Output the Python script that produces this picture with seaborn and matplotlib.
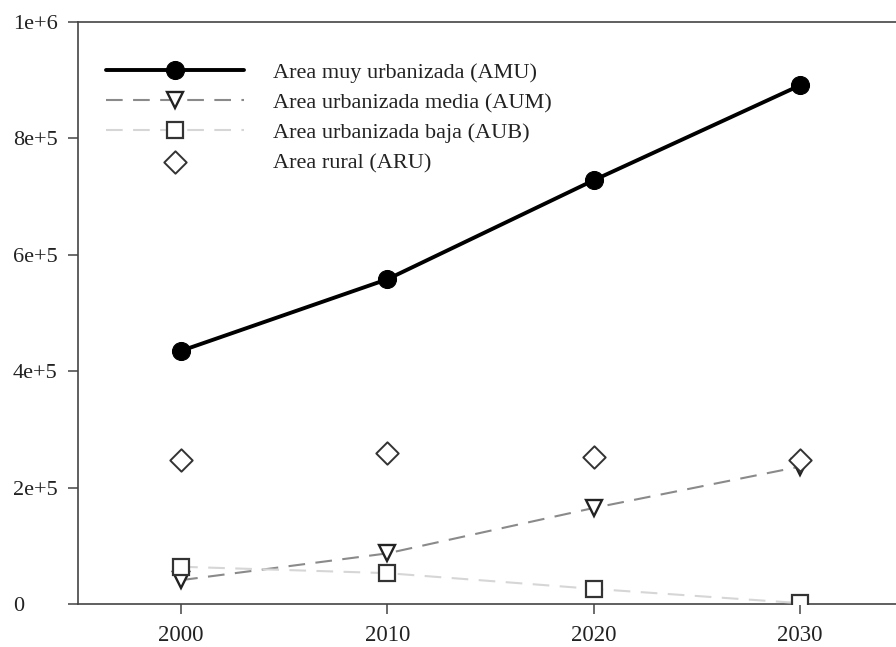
import matplotlib
matplotlib.use("Agg")
import matplotlib.pyplot as plt
import seaborn as sns
import pandas as pd

years = [2000, 2010, 2020, 2030]
amu = [435000, 558000, 728000, 891000]
aum = [41000, 87000, 165000, 236000]
aub = [64000, 53000, 26000, 1500]
aru = [247000, 259000, 253000, 248000]
labels = [
    "Area muy urbanizada (AMU)",
    "Area urbanizada media (AUM)",
    "Area urbanizada baja (AUB)",
    "Area rural (ARU)",
]
y_ticks = [0, 200000, 400000, 600000, 800000, 1000000]
y_tick_labels = ["0", "2e+5", "4e+5", "6e+5", "8e+5", "1e+6"]

sns.set_style("white")
plt.rcParams["font.family"] = ["Liberation Serif", "DejaVu Serif"]

fig = plt.figure(figsize=(8.96, 6.47), dpi=100)
ax = fig.add_axes([78 / 896, 43 / 647, 825 / 896, 582 / 647])

df_amu = pd.DataFrame({"year": years, "value": amu})
df_aum = pd.DataFrame({"year": years, "value": aum})
df_aub = pd.DataFrame({"year": years, "value": aub})
df_aru = pd.DataFrame({"year": years, "value": aru})

sns.lineplot(data=df_amu, x="year", y="value", ax=ax, color="black", lw=2.8,
             marker="o", markersize=13, markerfacecolor="black",
             markeredgecolor="black", label=labels[0], zorder=4)
sns.lineplot(data=df_aum, x="year", y="value", ax=ax, color="#8a8a8a", lw=1.5,
             linestyle=(0, (8, 5)), marker="v", markersize=12,
             markerfacecolor="white", markeredgecolor="#222222",
             markeredgewidth=1.7, label=labels[1], zorder=3)
sns.lineplot(data=df_aub, x="year", y="value", ax=ax, color="#d6d6d6", lw=1.5,
             linestyle=(0, (8, 5)), marker="s", markersize=11.5,
             markerfacecolor="white", markeredgecolor="#333333",
             markeredgewidth=1.6, label=labels[2], zorder=3)
sns.scatterplot(data=df_aru, x="year", y="value", ax=ax, marker="D", s=130,
                facecolor="white", edgecolor="#333333", linewidth=1.4,
                label=labels[3], zorder=5)

ax.set_xlim(1995, 2035)
ax.set_ylim(0, 1000000)
ax.set_xticks(years)
ax.set_xticklabels([str(y) for y in years], fontsize=16.5, color="#222222")
ax.set_yticks(y_ticks)
ax.set_yticklabels(y_tick_labels, fontsize=16, color="#222222", ha="left")
ax.set_xlabel("")
ax.set_ylabel("")

for side in ["left", "bottom", "top"]:
    ax.spines[side].set_visible(True)
    ax.spines[side].set_color("#444444")
    ax.spines[side].set_linewidth(1.2)
ax.spines["right"].set_visible(False)
ax.tick_params(axis="both", direction="out", length=7, width=1.1,
               color="#444444", left=True, bottom=True)
ax.tick_params(axis="y", pad=40)
ax.tick_params(axis="x", pad=8)

leg = ax.legend(loc="upper left", bbox_to_anchor=(0.010, 0.965), frameon=False,
                fontsize=16, handlelength=6.2, handletextpad=1.3,
                labelspacing=0.43)
for t in leg.get_texts():
    t.set_color("#222222")

fig.savefig("out.png", dpi=100)
